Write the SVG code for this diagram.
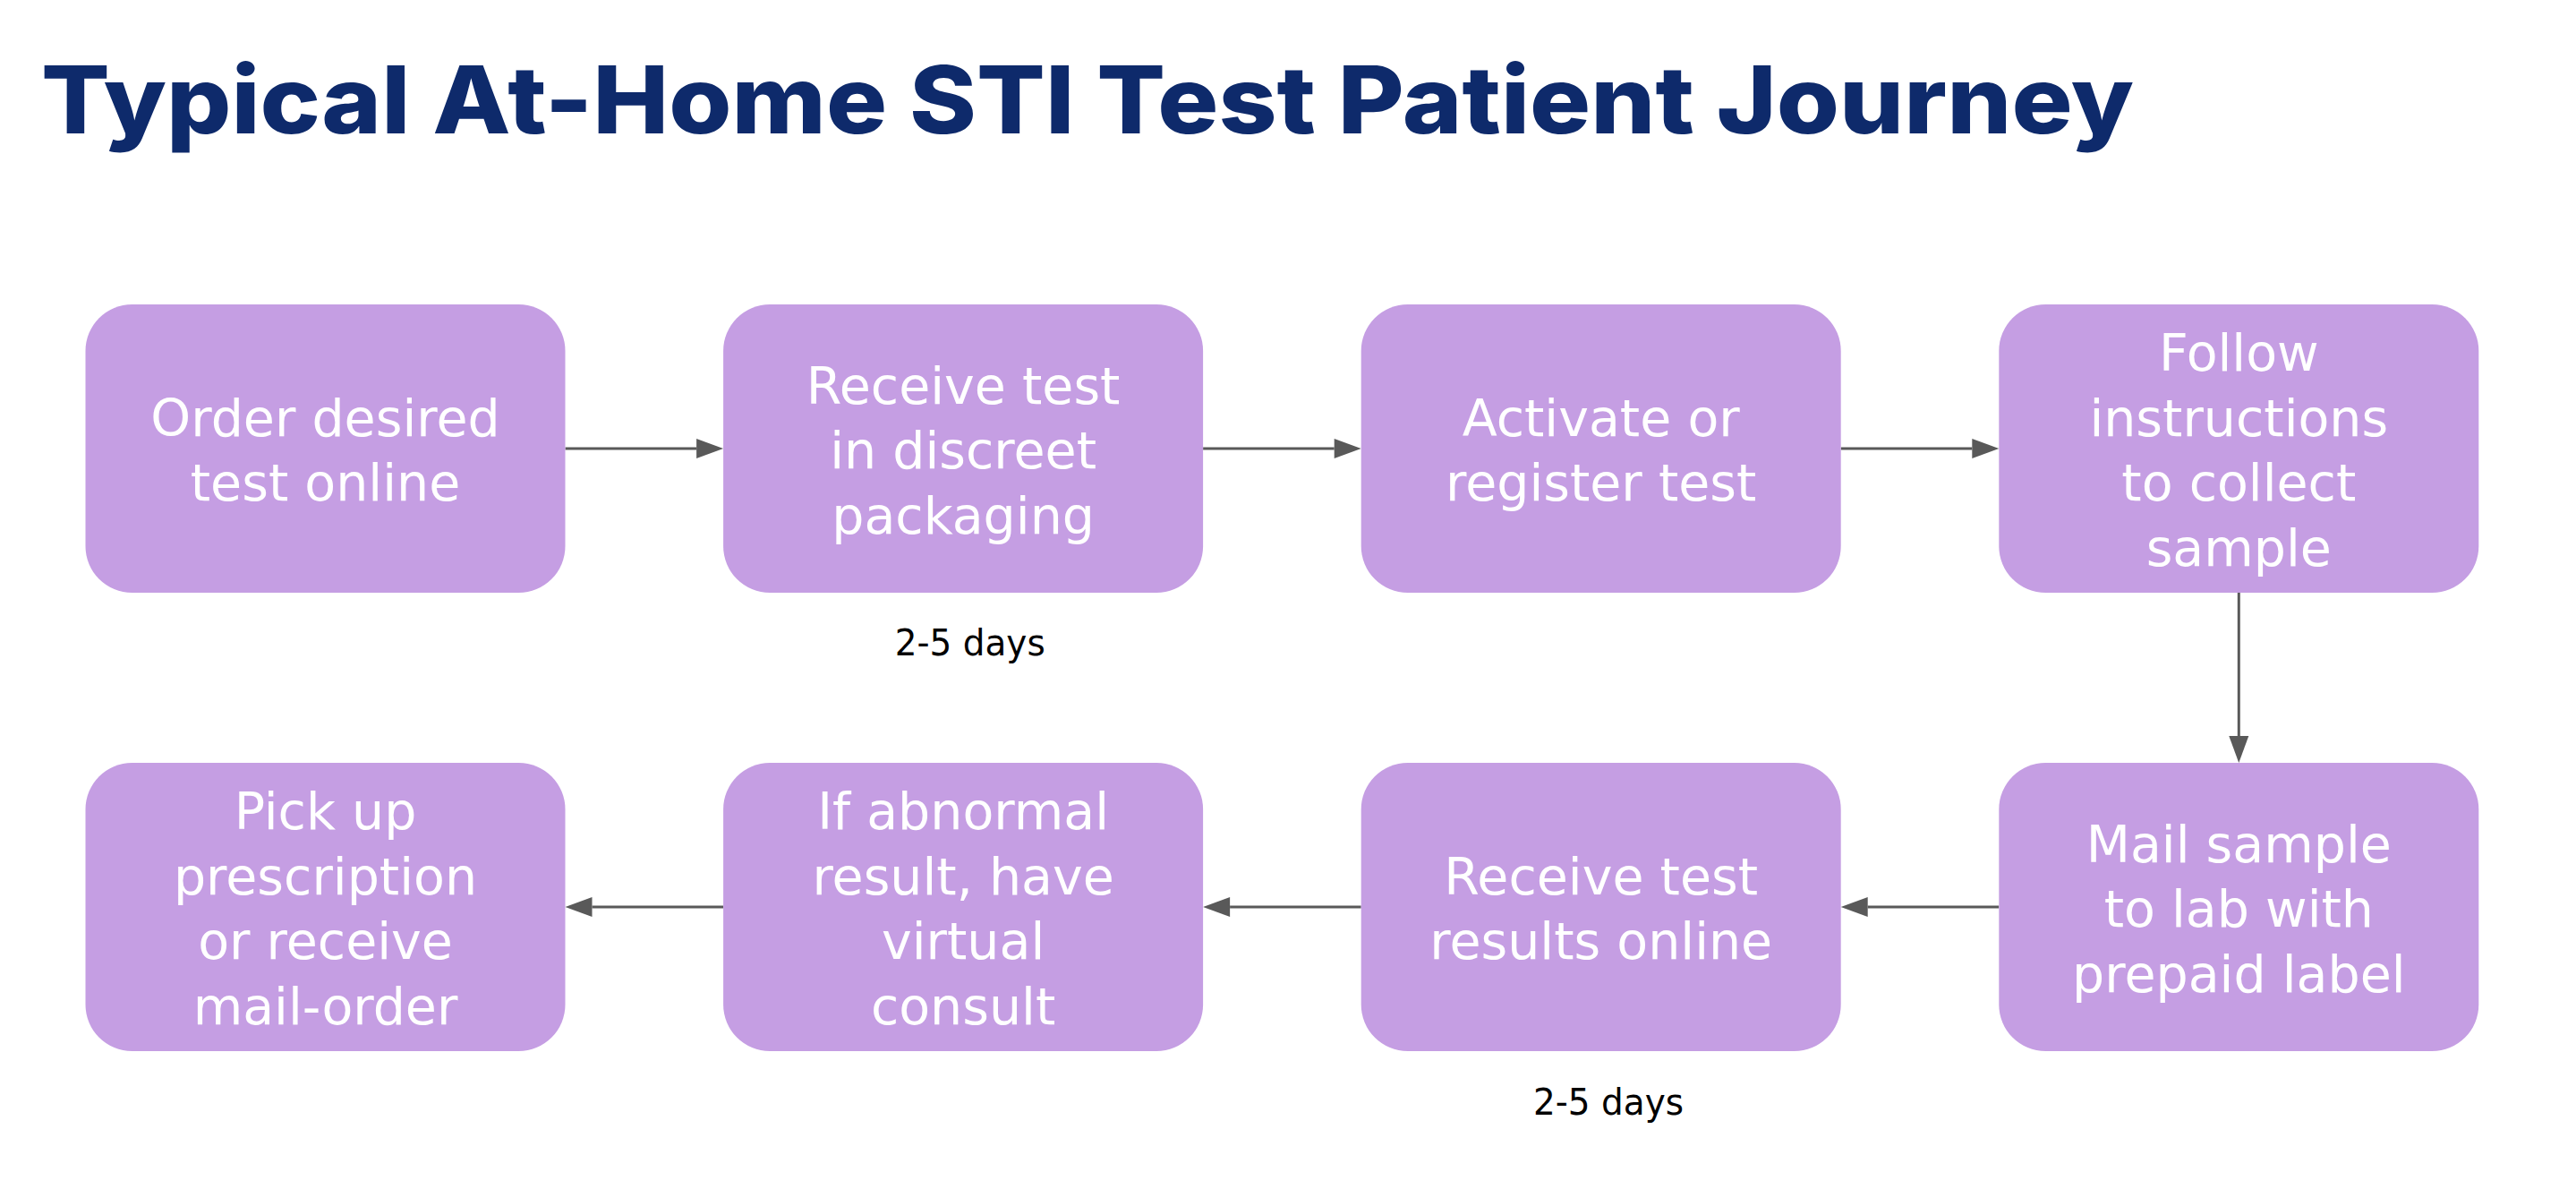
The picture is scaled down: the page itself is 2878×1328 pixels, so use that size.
<svg xmlns="http://www.w3.org/2000/svg" width="2878" height="1328" viewBox="0 0 2878 1328">
<style>
.box{fill:#C59EE3;}
.lbl{font-family:"DejaVu Sans","Liberation Sans",sans-serif;font-size:57px;fill:#FFFFFF;text-anchor:middle;}
.title{font-family:Inter,"DejaVu Sans","Liberation Sans",sans-serif;font-weight:800;font-size:104px;fill:#0E2A6B;}
.note{font-family:"DejaVu Sans","Liberation Sans",sans-serif;font-size:41px;fill:#000000;text-anchor:middle;}
.conn{stroke:#595959;stroke-width:3;fill:none;marker-end:url(#arr);}
</style>
<defs>
<marker id="arr" markerUnits="userSpaceOnUse" markerWidth="30" markerHeight="22" refX="0" refY="11" orient="auto" overflow="visible">
<path d="M0,0 L30,11 L0,22 Z" fill="#595959"/>
</marker>
</defs>
<rect width="2878" height="1328" fill="#FFFFFF"/>
<text class="title" x="46" y="149" textLength="2338" lengthAdjust="spacingAndGlyphs">Typical At-Home STI Test Patient Journey</text>

<g id="connectors">
<line class="conn" x1="631.5" y1="501" x2="778.1" y2="501"/>
<line class="conn" x1="1344.1" y1="501" x2="1490.7" y2="501"/>
<line class="conn" x1="2056.7" y1="501" x2="2203.3" y2="501"/>
<line class="conn" x1="2501.3" y1="662" x2="2501.3" y2="822"/>
<line class="conn" x1="2233.3" y1="1013" x2="2086.7" y2="1013"/>
<line class="conn" x1="1520.7" y1="1013" x2="1374.1" y2="1013"/>
<line class="conn" x1="808.1" y1="1013" x2="661.5" y2="1013"/>
</g>

<g id="n1">
<rect class="box" x="95.5" y="340" width="536" height="322" rx="52"/>
<text class="lbl"><tspan x="363.5" y="486.75">Order desired</tspan><tspan x="363.5" y="559.25">test online</tspan></text>
</g>
<g id="n2">
<rect class="box" x="808.1" y="340" width="536" height="322" rx="52"/>
<text class="lbl"><tspan x="1076.1" y="450.5">Receive test</tspan><tspan x="1076.1" y="523">in discreet</tspan><tspan x="1076.1" y="595.5">packaging</tspan></text>
</g>
<g id="n3">
<rect class="box" x="1520.7" y="340" width="536" height="322" rx="52"/>
<text class="lbl"><tspan x="1788.7" y="486.75">Activate or</tspan><tspan x="1788.7" y="559.25">register test</tspan></text>
</g>
<g id="n4">
<rect class="box" x="2233.3" y="340" width="536" height="322" rx="52"/>
<text class="lbl"><tspan x="2501.3" y="414.25">Follow</tspan><tspan x="2501.3" y="486.75">instructions</tspan><tspan x="2501.3" y="559.25">to collect</tspan><tspan x="2501.3" y="631.75">sample</tspan></text>
</g>
<g id="n5">
<rect class="box" x="2233.3" y="852" width="536" height="322" rx="52"/>
<text class="lbl"><tspan x="2501.3" y="962.5">Mail sample</tspan><tspan x="2501.3" y="1035">to lab with</tspan><tspan x="2501.3" y="1107.5">prepaid label</tspan></text>
</g>
<g id="n6">
<rect class="box" x="1520.7" y="852" width="536" height="322" rx="52"/>
<text class="lbl"><tspan x="1788.7" y="998.75">Receive test</tspan><tspan x="1788.7" y="1071.25">results online</tspan></text>
</g>
<g id="n7">
<rect class="box" x="808.1" y="852" width="536" height="322" rx="52"/>
<text class="lbl"><tspan x="1076.1" y="926.25">If abnormal</tspan><tspan x="1076.1" y="998.75">result, have</tspan><tspan x="1076.1" y="1071.25">virtual</tspan><tspan x="1076.1" y="1143.75">consult</tspan></text>
</g>
<g id="n8">
<rect class="box" x="95.5" y="852" width="536" height="322" rx="52"/>
<text class="lbl"><tspan x="363.5" y="926.25">Pick up</tspan><tspan x="363.5" y="998.75">prescription</tspan><tspan x="363.5" y="1071.25">or receive</tspan><tspan x="363.5" y="1143.75">mail-order</tspan></text>
</g>

<g id="notes">
<text class="note" x="1083.7" y="731.7" textLength="168" lengthAdjust="spacingAndGlyphs">2-5 days</text>
<text class="note" x="1797" y="1245" textLength="168" lengthAdjust="spacingAndGlyphs">2-5 days</text>
</g>
</svg>
